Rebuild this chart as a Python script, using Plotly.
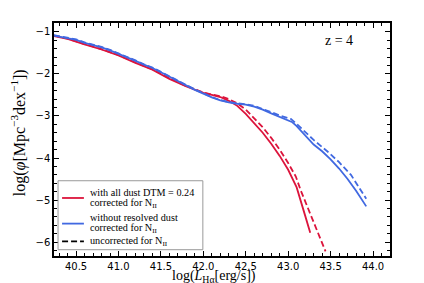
import plotly.graph_objects as go

# Red: with all dust DTM=0.24
red_x = [40.24, 40.4, 40.6, 40.8, 41.0, 41.2, 41.4, 41.6, 41.8, 42.0, 42.1, 42.2, 42.3, 42.4, 42.5, 42.6, 42.7, 42.8, 42.9, 43.0, 43.05, 43.1, 43.2, 43.26]
red_y = [-1.10, -1.17, -1.30, -1.42, -1.56, -1.74, -1.90, -2.12, -2.30, -2.45, -2.50, -2.55, -2.64, -2.76, -2.95, -3.17, -3.40, -3.66, -3.95, -4.28, -4.48, -4.70, -5.37, -5.78]
red_dash_x = [40.24, 40.4, 40.6, 40.8, 41.0, 41.2, 41.4, 41.6, 41.8, 42.0, 42.1, 42.2, 42.3, 42.4, 42.5, 42.6, 42.7, 42.8, 42.9, 43.0, 43.09, 43.15, 43.3, 43.44]
red_dash_y = [-1.09, -1.16, -1.29, -1.41, -1.55, -1.73, -1.89, -2.10, -2.29, -2.44, -2.49, -2.53, -2.60, -2.70, -2.85, -3.05, -3.27, -3.52, -3.80, -4.12, -4.44, -4.78, -5.52, -6.22]

# Blue: without resolved dust
blue_x = [40.24, 40.4, 40.5, 40.6, 40.7, 40.8, 40.9, 41.0, 41.1, 41.2, 41.3, 41.4, 41.5, 41.6, 41.7, 41.8, 41.9, 42.0, 42.1, 42.2, 42.3, 42.4, 42.5, 42.6, 42.7, 42.8, 42.9, 43.0, 43.05, 43.1, 43.2, 43.3, 43.4, 43.5, 43.6, 43.7, 43.8, 43.92]
blue_y = [-1.09, -1.15, -1.19, -1.26, -1.31, -1.37, -1.44, -1.52, -1.61, -1.69, -1.78, -1.86, -1.96, -2.07, -2.17, -2.28, -2.38, -2.47, -2.56, -2.63, -2.68, -2.71, -2.73, -2.78, -2.85, -2.94, -3.03, -3.11, -3.15, -3.24, -3.46, -3.68, -3.84, -4.03, -4.25, -4.50, -4.78, -5.15]
blue_dash_x = [40.24, 40.4, 40.5, 40.6, 40.7, 40.8, 40.9, 41.0, 41.1, 41.2, 41.3, 41.4, 41.5, 41.6, 41.7, 41.8, 41.9, 42.0, 42.1, 42.2, 42.3, 42.4, 42.5, 42.6, 42.7, 42.8, 42.9, 43.0, 43.03, 43.1, 43.15, 43.3, 43.46, 43.6, 43.74, 43.92]
blue_dash_y = [-1.08, -1.14, -1.18, -1.25, -1.30, -1.36, -1.43, -1.51, -1.60, -1.68, -1.77, -1.85, -1.95, -2.06, -2.16, -2.27, -2.37, -2.46, -2.55, -2.62, -2.67, -2.70, -2.72, -2.76, -2.83, -2.91, -2.99, -3.06, -3.07, -3.19, -3.29, -3.57, -3.84, -4.10, -4.40, -4.97]

x_ticks = [40.5, 41.0, 41.5, 42.0, 42.5, 43.0, 43.5, 44.0]
x_tick_labels = ["40.5", "41.0", "41.5", "42.0", "42.5", "43.0", "43.5", "44.0"]
y_ticks = [-6, -5, -4, -3, -2, -1]
y_tick_labels = ["−6", "−5", "−4", "−3", "−2", "−1"]

legend_lines = [["with all dust DTM = 0.24", "corrected for N<sub>II</sub>"],
                ["without resolved dust", "corrected for N<sub>II</sub>"],
                ["uncorrected for N<sub>II</sub>"]]

RED = "#DC143C"
BLUE = "#4169E1"
SERIF = "Liberation Serif"
DASH = "6px,3px"

fig = go.Figure()
fig.add_trace(go.Scatter(x=red_x, y=red_y, mode="lines", line=dict(color=RED, width=1.8)))
fig.add_trace(go.Scatter(x=red_dash_x, y=red_dash_y, mode="lines", line=dict(color=RED, width=1.8, dash=DASH)))
fig.add_trace(go.Scatter(x=blue_x, y=blue_y, mode="lines", line=dict(color=BLUE, width=1.8)))
fig.add_trace(go.Scatter(x=blue_dash_x, y=blue_dash_y, mode="lines", line=dict(color=BLUE, width=1.8, dash=DASH)))

axis_common = dict(
    showline=True, linecolor="black", linewidth=1.5, mirror="allticks",
    ticks="inside", ticklen=5, tickwidth=1, tickcolor="black",
    showgrid=False, zeroline=False, automargin=False,
    tickfont=dict(family="DejaVu Sans", size=10, color="black"),
)

fig.update_xaxes(range=[40.24, 44.2], tickvals=x_ticks, ticktext=x_tick_labels,
                 minor=dict(dtick=0.1, tick0=40.0, ticks="inside", ticklen=3, tickcolor="black"),
                 **axis_common)
fig.update_yaxes(range=[-6.33, -0.79], tickvals=y_ticks, ticktext=y_tick_labels,
                 minor=dict(dtick=0.2, tick0=0, ticks="inside", ticklen=3, tickcolor="black"),
                 **axis_common)

# Axis titles as annotations for precise placement
fig.add_annotation(x=0.475, y=-0.046, xref="paper", yref="paper", text="log(<i>L</i><sub>Hα</sub>[erg/s])",
                   showarrow=False, xanchor="center", yanchor="top", borderpad=0,
                   font=dict(family=SERIF, size=14, color="black"))
fig.add_annotation(x=-0.105, y=0.53, xref="paper", yref="paper",
                   text="log(<i>φ</i>[Mpc<sup>−3</sup>dex<sup>−1</sup>])", textangle=-90,
                   showarrow=False, xanchor="center", yanchor="middle",
                   font=dict(family=SERIF, size=16, color="black"))

fig.add_annotation(x=0.848, y=0.923, xref="paper", yref="paper", text="z = 4", showarrow=False,
                   font=dict(family=SERIF, size=14, color="black"), xanchor="center", yanchor="middle")

# Hand-built legend box (paper coordinates)
fig.add_shape(type="rect", xref="paper", yref="paper", x0=0.012, x1=0.443, y0=0.027, y1=0.323,
              line=dict(color="#999999", width=1), fillcolor="white", layer="above")
sample_style = [(RED, "solid", 0.249), (BLUE, "solid", 0.139), ("black", DASH, 0.063)]
text_y = [[0.273, 0.226], [0.164, 0.116], [0.063]]
for (color, dash, ly), lines, ys in zip(sample_style, legend_lines, text_y):
    fig.add_shape(type="line", xref="paper", yref="paper", x0=0.024, x1=0.089, y0=ly, y1=ly,
                  line=dict(color=color, width=1.8, dash=dash), layer="above")
    for t, ty in zip(lines, ys):
        fig.add_annotation(x=0.104, y=ty, xref="paper", yref="paper", text=t, showarrow=False,
                           align="left", xanchor="left", yanchor="middle", borderpad=0,
                           font=dict(family=SERIF, size=10.2, color="black"))

fig.update_layout(
    width=424, height=283,
    margin=dict(l=46, r=42, t=15, b=35),
    paper_bgcolor="white", plot_bgcolor="white",
    showlegend=False,
)

fig.write_html("out.html")
